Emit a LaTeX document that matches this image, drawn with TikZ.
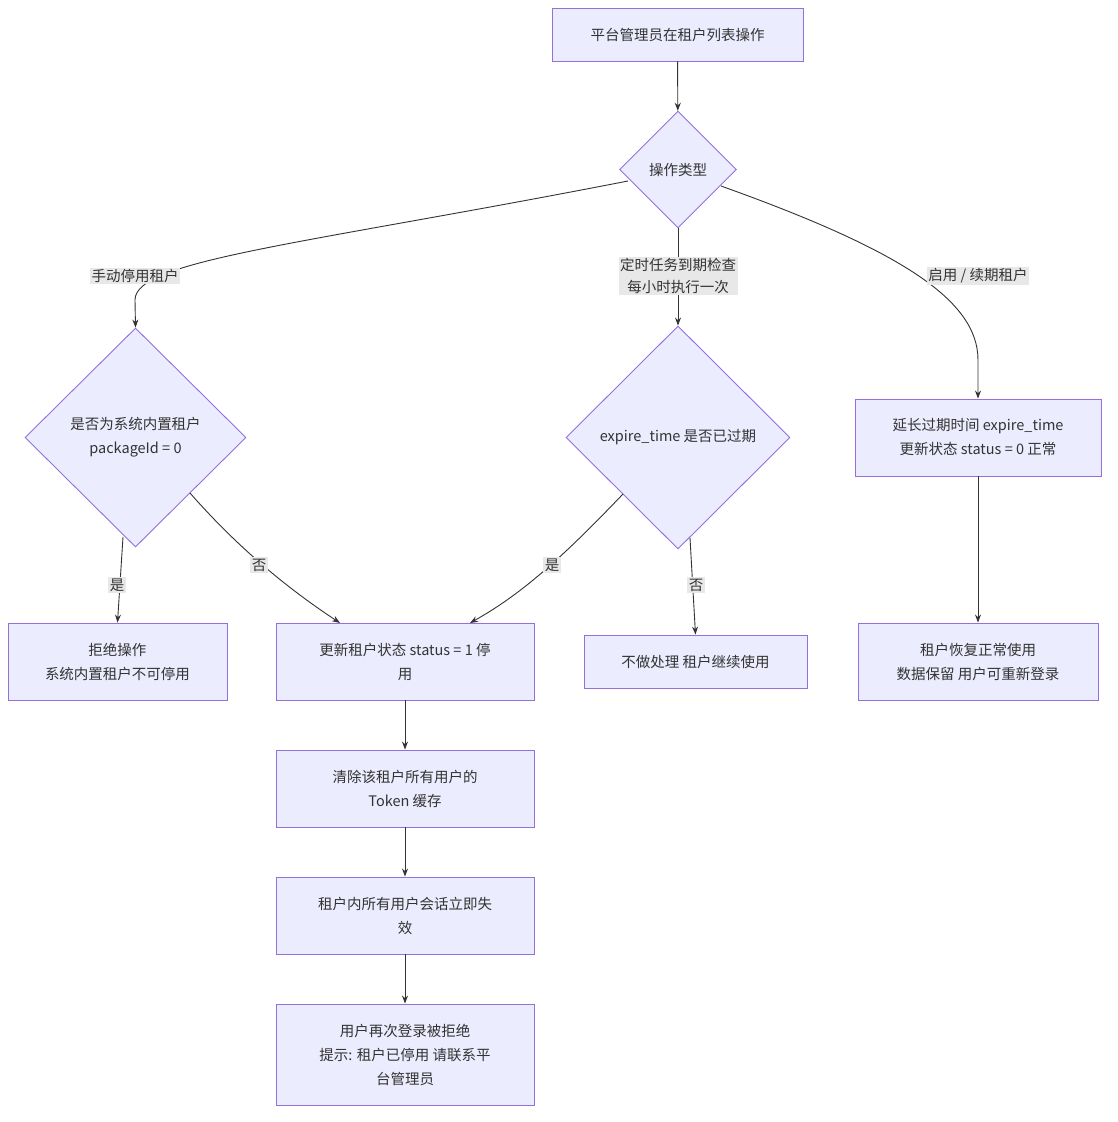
\documentclass[tikz,border=0pt]{standalone}
\usepackage{fontspec}
\setmainfont{Noto Sans CJK SC}
\usetikzlibrary{shapes.geometric,arrows.meta}
\definecolor{nfill}{HTML}{ECECFF}
\definecolor{nline}{HTML}{9370DB}
\definecolor{eline}{HTML}{333333}
\definecolor{lbg}{HTML}{E8E8E8}
\begin{document}
\begin{tikzpicture}[x=1pt,y=-1pt,
  every node/.style={font=\fontsize{14.5}{24}\selectfont, text=eline},
  box/.style={draw=nline,fill=nfill,line width=0.9pt,align=center,inner sep=0pt},
  dia/.style={draw=nline,fill=nfill,line width=0.9pt,diamond,align=center,inner sep=0pt},
  lab/.style={fill=lbg,align=center,inner sep=1.5pt,font=\fontsize{14.5}{22}\selectfont},
  ed/.style={draw=eline,line width=0.9pt,-{Stealth[length=8pt,width=6pt]}}]
\useasboundingbox (0,0) rectangle (1117,1122);
\node[box,minimum width=251,minimum height=53] (A) at (677.5,34.5) {平台管理员在租户列表操作};
\node[dia,minimum width=117,minimum height=117] (B) at (678,169.5) {操作类型};
\node[dia,minimum width=221,minimum height=219] (C) at (135.5,437.5) {是否为系统内置租户\\packageId = 0};
\node[dia,minimum width=224,minimum height=223] (D) at (678,437.5) {expire\_time 是否已过期};
\node[box,minimum width=246,minimum height=77] (E) at (978,437.5) {延长过期时间 expire\_time\\更新状态 status = 0 正常};
\node[box,minimum width=219,minimum height=77] (F) at (117.5,661.5) {拒绝操作\\系统内置租户不可停用};
\node[box,minimum width=258,minimum height=77] (G) at (405,661.5) {更新租户状态 status = 1 停\\用};
\node[box,minimum width=223,minimum height=53] (H) at (695.5,661.5) {不做处理 租户继续使用};
\node[box,minimum width=240,minimum height=77] (I) at (978,661.5) {租户恢复正常使用\\数据保留 用户可重新登录};
\node[box,minimum width=258,minimum height=77] (J) at (405,788.5) {清除该租户所有用户的\\Token 缓存};
\node[box,minimum width=258,minimum height=77] (K) at (405,915.5) {租户内所有用户会话立即失\\效};
\node[box,minimum width=258,minimum height=101] (L) at (405,1054.5) {用户再次登录被拒绝\\提示: 租户已停用 请联系平\\台管理员};
\draw[ed] (A) -- (B);
\draw[ed] (628,181) .. controls (300,245) and (135,260) .. (135,300) -- (C.north);
\draw[ed] (B) -- (D);
\draw[ed] (721,186) .. controls (900,250) and (978,300) .. (978,360) -- (E.north);
\draw[ed] (123,537) -- (F.north);
\draw[ed] (190,493) .. controls (240,550) and (290,590) .. (340,623);
\draw[ed] (623,494) .. controls (560,560) and (520,595) .. (470,623);
\draw[ed] (690,538) -- (H.north);
\draw[ed] (E) -- (I);
\draw[ed] (G) -- (J);
\draw[ed] (J) -- (K);
\draw[ed] (K) -- (L);
\node[lab] (l1) at (135,276) {手动停用租户};
\node[lab] (l2) at (678,276) {定时任务到期检查\\每小时执行一次};
\node[lab] (l3) at (978,276) {启用 / 续期租户};
\node[lab] (l4) at (117,585) {是};
\node[lab] (l5) at (259,565) {否};
\node[lab] (l6) at (552,565) {是};
\node[lab] (l7) at (696,585) {否};
\end{tikzpicture}
\end{document}
